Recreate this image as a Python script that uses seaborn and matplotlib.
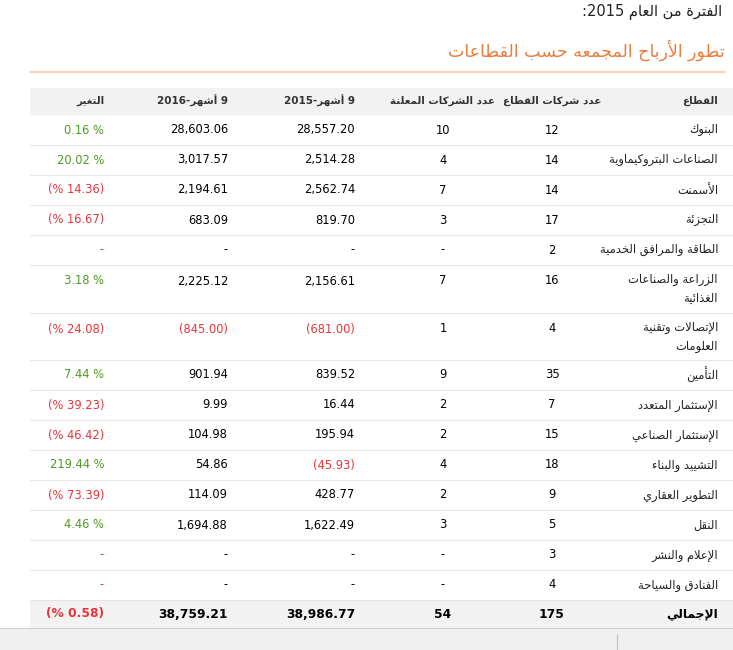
import re
import unicodedata

import matplotlib
matplotlib.use("Agg")
import matplotlib.pyplot as plt
import seaborn as sns

sns.set_theme(style="white", font="DejaVu Sans")

# --- data ---
sectors = ["البنوك", "الصناعات البتروكيماوية", "الأسمنت", "التجزئة", "الطاقة والمرافق الخدمية",
           "الزراعة والصناعات\nالغذائية", "الإتصالات وتقنية\nالعلومات", "التأمين", "الإستثمار المتعدد",
           "الإستثمار الصناعي", "التشييد والبناء", "التطوير العقاري", "النقل", "الإعلام والنشر",
           "الفنادق والسياحة"]
n_companies = [12, 14, 14, 17, 2, 16, 4, 35, 7, 15, 18, 9, 5, 3, 4]
n_announced = [10, 4, 7, 3, None, 7, 1, 9, 2, 2, 4, 2, 3, None, None]
profit_2015 = [28557.20, 2514.28, 2562.74, 819.70, None, 2156.61, -681.00, 839.52, 16.44,
               195.94, -45.93, 428.77, 1622.49, None, None]
profit_2016 = [28603.06, 3017.57, 2194.61, 683.09, None, 2225.12, -845.00, 901.94, 9.99,
               104.98, 54.86, 114.09, 1694.88, None, None]
change = [0.16, 20.02, -14.36, -16.67, None, 3.18, -24.08, 7.44, -39.23, -46.42, 219.44,
          -73.39, 4.46, None, None]
total = ["الإجمالي", 175, 54, 38986.77, 38759.21, -0.58]
headers = ["القطاع", "عدد شركات القطاع", "عدد الشركات المعلنة", "9 أشهر-2015", "9 أشهر-2016", "التغير"]
title = "تطور الأرباح المجمعه حسب القطاعات"
period = "الفترة من العام 2015:"

GREEN = "#4e9a22"
RED = "#e8343a"
ORANGE = "#ea7d3c"

# --- minimal arabic shaping (no reshaper lib available) ---
RIGHT_ONLY = set("اأإآدذرزوؤةى")
NO_JOIN = set("ء")
ALEFS = {"ا": "ALEF", "أ": "ALEF WITH HAMZA ABOVE", "إ": "ALEF WITH HAMZA BELOW", "آ": "ALEF WITH MADDA ABOVE"}


def is_ar(c):
    return "\u0621" <= c <= "\u064a"


def form(c, f):
    try:
        return unicodedata.lookup(unicodedata.name(c) + " " + f + " FORM")
    except (KeyError, ValueError):
        return c


def shape(text):
    out = []
    i = 0
    n = len(text)
    while i < n:
        c = text[i]
        if not is_ar(c):
            out.append(c)
            i += 1
            continue
        prev = text[i - 1] if i > 0 else ""
        pj = bool(prev) and is_ar(prev) and prev not in RIGHT_ONLY and prev not in NO_JOIN
        if c == "ل" and i + 1 < n and text[i + 1] in ALEFS:
            f = "FINAL" if pj else "ISOLATED"
            try:
                out.append(unicodedata.lookup("ARABIC LIGATURE LAM WITH " + ALEFS[text[i + 1]] + " " + f + " FORM"))
            except KeyError:
                out.append(c + text[i + 1])
            i += 2
            continue
        nxt = text[i + 1] if i + 1 < n else ""
        nj = bool(nxt) and is_ar(nxt) and c not in RIGHT_ONLY and c not in NO_JOIN
        if c in NO_JOIN:
            pj = False
        if pj and nj:
            out.append(form(c, "MEDIAL"))
        elif pj:
            out.append(form(c, "FINAL"))
        elif nj:
            out.append(form(c, "INITIAL"))
        else:
            out.append(form(c, "ISOLATED"))
        i += 1
    s = "".join(out)
    tokens = re.findall(r"[0-9A-Za-z.,]+|.", s)
    return "".join(reversed(tokens))


def ar(text):
    return "\n".join(shape(line) for line in text.split("\n"))


def fmt_num(v):
    if v is None:
        return "-", "black"
    if v < 0:
        return f"({abs(v):,.2f})", RED
    return f"{v:,.2f}", "black"


def fmt_pct(v):
    if v is None:
        return "-", RED
    if v < 0:
        return f"(% {abs(v):.2f})", RED
    return f"{v:.2f} %", GREEN


W, H = 733, 650
fig = plt.figure(figsize=(W / 100, H / 100), dpi=100)
fig.patch.set_facecolor("white")
ax = fig.add_axes([0, 0, 1, 1])
ax.set_xlim(0, W)
ax.set_ylim(H, 0)
ax.axis("off")

FS = 8.3
ax.text(722, 12, ar(period), ha="right", va="center", fontsize=10.5, color="#222222")
ax.text(725, 50, ar(title), ha="right", va="center", fontsize=12.5, color=ORANGE)
ax.plot([30, 725], [72, 72], color="#f3c9a8", lw=1.2)

# column anchors: (x, ha)
cols = [(718, "right"), (552, "center"), (443, "center"), (355, "right"), (228, "right"), (104, "right")]

ax.fill_between([30, 733], 88, 115, color="#f2f2f2", lw=0)
for (x, ha), h in zip(cols, headers):
    ax.text(x, 101, ar(h), ha=ha, va="center", fontsize=7.5, fontweight="bold", color="#333333")

heights = [30] * 5 + [48, 47] + [30] * 8
top = 115
for k, h in enumerate(heights):
    if h > 30:
        yc = top + 16
        ax.text(cols[0][0], yc - 8, ar(sectors[k]), ha="right", va="top",
                fontsize=FS, color="#222222", linespacing=1.55)
    else:
        yc = top + h / 2
        ax.text(cols[0][0], yc, ar(sectors[k]), ha="right", va="center", fontsize=FS, color="#222222")
    cells = [(str(n_companies[k]), "black"),
             (str(n_announced[k]) if n_announced[k] is not None else "-", "black"),
             fmt_num(profit_2015[k]), fmt_num(profit_2016[k]), fmt_pct(change[k])]
    for (x, ha), (s, c) in zip(cols[1:], cells):
        ax.text(x, yc, s, ha=ha, va="center", fontsize=FS, color=c)
    top += h
    ax.plot([30, 733], [top, top], color="#e6e6e6", lw=0.8)

# total row
ax.fill_between([30, 733], 600, 628, color="#f2f2f2", lw=0)
tcells = [(ar(total[0]), "black"), (str(total[1]), "black"), (str(total[2]), "black"),
          fmt_num(total[3]), fmt_num(total[4]), fmt_pct(total[5])]
for (x, ha), (s, c) in zip(cols, tcells):
    ax.text(x, 614, s, ha=ha, va="center", fontsize=FS + 0.5, fontweight="bold",
            color=RED if c == GREEN else c)

ax.fill_between([0, 733], 628, 650, color="#f0f0f0", lw=0)
ax.plot([0, 733], [628, 628], color="#d0d0d0", lw=0.8)
ax.plot([617, 617], [634, 650], color="#c0c0c0", lw=0.8)

fig.savefig("out.png", dpi=100)
